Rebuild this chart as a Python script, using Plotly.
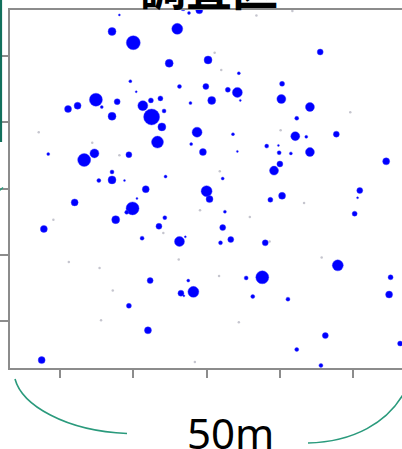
import plotly.graph_objects as go

# Tree positions (m) and stem size class (marker diameter)
tree_x = [13.1, 12.1, 15.0, 14.6, 15.4, 9.9, 12.8, 7.4, 6.1, 10.7, 12.1, 3.4, 8.3, 9.7, 14.4,
          12.1, 12.1, 10.3, 13.8, 21.8, 22.6, 24.0, 21.0, 19.9, 25.2, 29.4, 21.3, 24.9, 27.9, 29.2,
          29.6, 25.7, 22.8, 16.3, 17.4, 18.7, 19.2, 17.5, 18.9, 18.3, 23.7, 28.6, 22.9, 24.5, 29.2,
          33.2, 27.2, 19.4, 16.7, 25.0, 25.4, 40.5, 35.3, 35.2, 39.1, 37.3, 37.1, 38.6, 42.7, 34.8,
          34.9, 36.5, 39.1, 35.0, 34.2, 49.5, 45.9, 45.6, 33.7, 35.3, 45.2, 7.0, 14.9, 15.5, 14.1,
          12.6, 19.3, 27.5, 2.8, 18.5, 27.2, 16.2, 21.3, 22.1, 26.9, 28.3, 33.0, 42.9, 17.3, 22.5,
          30.4, 32.6, 50.1, 21.5, 23.2, 21.9, 31.3, 36.1, 49.9, 14.4, 17.0, 41.2, 37.3, 51.4, 2.5,
          40.6]
tree_y = [51.2, 48.7, 47.0, 41.2, 39.6, 38.4, 38.1, 37.5, 37.0, 37.3, 35.9, 30.2, 29.3, 30.3, 30.1,
          27.5, 26.3, 26.2, 26.2, 52.2, 51.5, 51.9, 49.1, 43.9, 44.4, 42.4, 40.4, 40.4, 39.9, 39.5,
          38.3, 38.3, 37.9, 37.5, 38.3, 38.6, 36.7, 35.8, 34.3, 32.0, 33.5, 33.2, 31.7, 30.5, 30.6,
          31.4, 26.5, 26.8, 24.9, 24.6, 23.4, 45.6, 40.8, 38.5, 37.3, 35.6, 32.9, 32.8, 33.2, 31.5,
          30.4, 30.3, 30.5, 28.7, 27.7, 29.1, 24.7, 23.6, 23.3, 23.9, 21.2, 22.9, 22.0, 23.5, 21.4,
          20.3, 20.6, 21.5, 18.9, 19.3, 19.1, 17.5, 17.0, 17.7, 16.8, 17.3, 16.8, 13.4, 11.1, 11.1,
          11.5, 11.6, 11.6, 9.2, 9.4, 8.8, 8.7, 8.3, 9.0, 7.3, 3.6, 2.8, 0.7, 1.6, -0.9,
          -1.7]
tree_size = [2, 8, 14, 3, 2, 13, 6, 7, 7, 3, 8, 3, 13, 9, 6,
             4, 8, 4, 2, 5, 3, 7, 11, 8, 8, 3, 4, 6, 5, 10,
             2, 8, 3, 10, 5, 5, 4, 16, 8, 12, 10, 3, 3, 7, 2,
             4, 3, 3, 7, 11, 7, 6, 5, 9, 9, 4, 9, 3, 6, 2,
             4, 3, 9, 6, 9, 7, 6, 2, 5, 7, 5, 7, 13, 2, 4,
             8, 4, 3, 7, 6, 6, 4, 10, 2, 4, 6, 6, 11, 6, 3,
             4, 13, 5, 6, 11, 2, 4, 4, 7, 5, 7, 6, 4, 5, 7,
             4]

# Very small (seedling) stems drawn as faint gray points
small_x = [31.8, 36.7, 26.1, 27.0, 2.1, 44.6, 35.1, 13.1, 9.4, 26.8, 38.3, 24.1, 30.9, 4.1, 19.1,
           33.6, 21.2, 6.2, 10.4, 40.7, 26.7, 12.2, 10.6, 29.4, 23.4]
small_y = [51.1, 51.8, 45.5, 42.9, 33.5, 36.5, 33.8, 30.0, 31.9, 27.6, 22.8, 21.7, 20.7, 20.3, 18.3,
           17.0, 14.3, 13.9, 13.0, 14.6, 11.8, 9.6, 5.1, 4.8, -1.2]

x_ticks = [5, 15, 25, 35, 45]
y_ticks = [5, 15, 25, 35, 45]

title_text = "調査区"
scale_text = "50m"

W, H = 402, 449
ML, MT, MR, MB = 10, 10, 0, 81
PW, PH = W - ML - MR, H - MT - MB


def px(xp):
    return (xp - ML) / PW


def py(yp):
    return (H - MB - yp) / PH


fig = go.Figure()
fig.add_trace(go.Scatter(
    x=small_x, y=small_y, mode="markers",
    marker=dict(size=2.5, color="rgba(150,150,165,0.55)", opacity=1, line=dict(width=0)),
    hoverinfo="skip", showlegend=False))
fig.add_trace(go.Scatter(
    x=tree_x, y=tree_y, mode="markers",
    marker=dict(size=tree_size, color="#0000ff", opacity=1,
                line=dict(width=0.6, color="rgba(60,60,255,0.7)")),
    hoverinfo="skip", showlegend=False))

axis_common = dict(showgrid=False, zeroline=False, showticklabels=False,
                   ticks="outside", tickcolor="#8c8c8c", tickwidth=1.6,
                   showline=True, linecolor="#8c8c8c", linewidth=1.6)

fig.update_xaxes(range=[-1.82, 51.66], tickvals=x_ticks, ticklen=8, mirror=True, **axis_common)
fig.update_yaxes(range=[-2.09, 51.94], tickvals=y_ticks, ticklen=10, mirror=False, **axis_common)

shapes = []
green = "#2a9a7c"
# left bracket arc
shapes.append(dict(type="path", xref="paper", yref="paper",
                   path=f"M {px(15)},{py(379)} C {px(22)},{py(405)} {px(65)},{py(431)} {px(127)},{py(433.5)}",
                   line=dict(color=green, width=1.6)))
# right bracket arc
shapes.append(dict(type="path", xref="paper", yref="paper",
                   path=f"M {px(308)},{py(443)} C {px(350)},{py(442)} {px(390)},{py(425)} {px(408)},{py(385)}",
                   line=dict(color=green, width=1.6)))
# dark green vertical line at left edge
shapes.append(dict(type="line", xref="paper", yref="paper",
                   x0=px(1), x1=px(1), y0=py(-2), y1=py(142),
                   line=dict(color="#12705c", width=2.2)))
# small green stroke
shapes.append(dict(type="line", xref="paper", yref="paper",
                   x0=px(-1), x1=px(3), y0=py(191), y1=py(187.5),
                   line=dict(color=green, width=1.5)))

fig.update_layout(
    width=W, height=H,
    margin=dict(l=ML, r=MR, t=MT, b=MB, pad=0),
    paper_bgcolor="white", plot_bgcolor="white",
    shapes=shapes,
    annotations=[
        dict(text=f"<b>{title_text}</b>", xref="paper", yref="paper",
             x=px(209), y=py(-15), xanchor="center", yanchor="middle",
             showarrow=False, font=dict(family="Noto Sans CJK JP", size=46, color="black")),
        dict(text=scale_text, xref="paper", yref="paper",
             x=px(230.5), y=py(432), xanchor="center", yanchor="middle",
             showarrow=False, font=dict(family="Noto Sans", size=42, color="black")),
    ],
)

fig.write_html("out.html", config={"displayModeBar": False},
               post_script="document.body.style.margin='0';document.body.style.overflow='hidden';")
